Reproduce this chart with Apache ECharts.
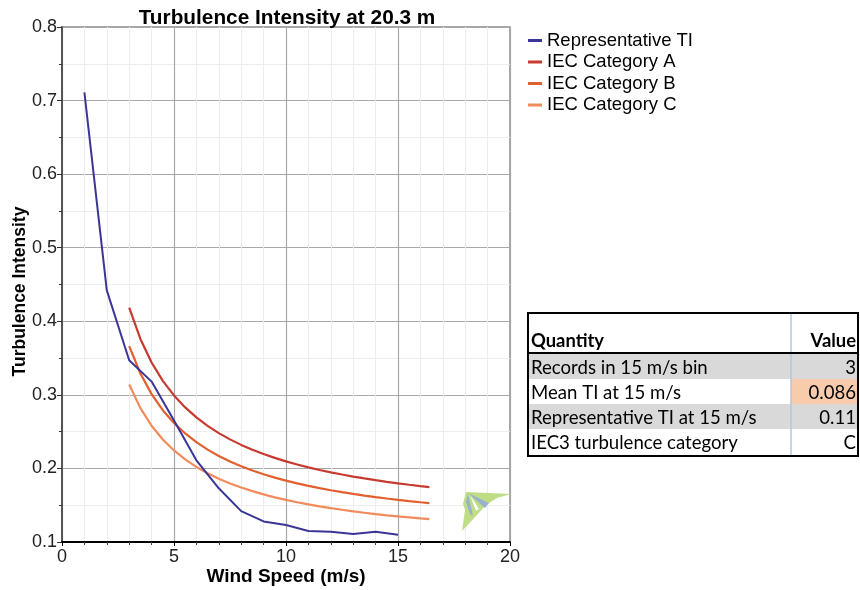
<!DOCTYPE html>
<html>
<head>
<meta charset="utf-8">
<script src="https://cdn.jsdelivr.net/npm/echarts@6/dist/echarts.min.js"></script>
<style>
  html, body { margin: 0; padding: 0; background: #fff; }
  #chart { width: 860px; height: 590px; }
</style>
</head>
<body>
<div id="chart"></div>
<script>
// Representative turbulence intensity per wind speed bin (m/s, TI)
const repSpeeds = [1, 2, 3, 4, 5, 6, 7, 8, 9, 10, 11, 12, 13, 14, 15];
const repTI = [0.711, 0.442, 0.347, 0.318, 0.265, 0.211, 0.173, 0.142, 0.128, 0.123, 0.115, 0.114, 0.111, 0.114, 0.110];

// IEC category reference curves
const iecSpeeds = [3, 3.5, 4, 4.5, 5, 5.5, 6, 6.5, 7, 7.5, 8, 8.5, 9, 9.5, 10, 10.5, 11, 11.5, 12, 12.5, 13, 13.5, 14, 14.5, 15, 15.5, 16, 16.4];
const iecA = [0.4187, 0.376, 0.344, 0.3191, 0.2992, 0.2829, 0.2693, 0.2578, 0.248, 0.2395, 0.232, 0.2254, 0.2196, 0.2143, 0.2096, 0.2053, 0.2015, 0.1979, 0.1947, 0.1917, 0.1889, 0.1864, 0.184, 0.1818, 0.1797, 0.1778, 0.176, 0.1746];
const iecB = [0.3663, 0.329, 0.301, 0.2792, 0.2618, 0.2475, 0.2357, 0.2256, 0.217, 0.2095, 0.203, 0.1972, 0.1921, 0.1875, 0.1834, 0.1797, 0.1763, 0.1732, 0.1703, 0.1677, 0.1653, 0.1631, 0.161, 0.1591, 0.1573, 0.1556, 0.154, 0.1528];
const iecC = [0.314, 0.282, 0.258, 0.2393, 0.2244, 0.2122, 0.202, 0.1934, 0.186, 0.1796, 0.174, 0.1691, 0.1647, 0.1607, 0.1572, 0.154, 0.1511, 0.1484, 0.146, 0.1438, 0.1417, 0.1398, 0.138, 0.1363, 0.1348, 0.1334, 0.132, 0.131];

const seriesNames = ['Representative TI', 'IEC Category A', 'IEC Category B', 'IEC Category C'];
const seriesColors = ['#3A3597', '#C73A2F', '#E2602E', '#F28B5C'];

// Summary table
const tableHeader = ['Quantity', 'Value'];
const tableRows = [
  ['Records in 15 m/s bin', '3'],
  ['Mean TI at 15 m/s', '0.086'],
  ['Representative TI at 15 m/s', '0.11'],
  ['IEC3 turbulence category', 'C']
];

function pairs(xs, ys) { return xs.map((x, i) => [x, ys[i]]); }

const chart = echarts.init(document.getElementById('chart'));

// table geometry
const T = { x: 528, y: 313, w: 330, headH: 40, rowH: 25, splitX: 791 };
const tableFont = 'Lato, "Open Sans", sans-serif';
const cellFont = '18.6px ' + tableFont;
const headFont = 'bold 18.4px ' + tableFont;
const tableEls = [];
tableEls.push({ type: 'rect', shape: { x: T.x, y: T.y, width: T.w, height: T.headH + T.rowH * tableRows.length + 3 }, style: { fill: '#fff', stroke: '#000', lineWidth: 2 }, z: 10 });
tableRows.forEach((r, i) => {
  const y = T.y + T.headH + 1 + i * T.rowH;
  if (i % 2 === 0) {
    tableEls.push({ type: 'rect', shape: { x: T.x + 1, y: y, width: T.w - 2, height: T.rowH }, style: { fill: '#D9D9D9' }, z: 11 });
  }
  if (i === 1) {
    tableEls.push({ type: 'rect', shape: { x: T.splitX, y: y, width: T.x + T.w - 1 - T.splitX, height: T.rowH }, style: { fill: '#F8CBAD' }, z: 11 });
  }
  tableEls.push({ type: 'text', x: T.x + 3, y: y + T.rowH / 2 + 1, style: { text: r[0], font: cellFont, fill: '#000', verticalAlign: 'middle' }, z: 13 });
  tableEls.push({ type: 'text', x: T.x + T.w - 2, y: y + T.rowH / 2 + 1, style: { text: r[1], font: cellFont, fill: '#000', align: 'right', verticalAlign: 'middle' }, z: 13 });
});
tableEls.push({ type: 'line', shape: { x1: T.splitX, y1: T.y + 1, x2: T.splitX, y2: T.y + T.headH + T.rowH * tableRows.length + 2 }, style: { stroke: '#B4C6DC', lineWidth: 1.5 }, z: 12 });
tableEls.push({ type: 'line', shape: { x1: T.x, y1: T.y + T.headH, x2: T.x + T.w, y2: T.y + T.headH }, style: { stroke: '#000', lineWidth: 2 }, z: 14 });
tableEls.push({ type: 'text', x: T.x + 3, y: T.y + T.headH - 12, style: { text: tableHeader[0], font: headFont, fill: '#000', verticalAlign: 'middle' }, z: 13 });
tableEls.push({ type: 'text', x: T.x + T.w - 2, y: T.y + T.headH - 12, style: { text: tableHeader[1], font: headFont, fill: '#000', align: 'right', verticalAlign: 'middle' }, z: 13 });

// small logo mark in the lower right of the plot
const logoEls = [
  { type: 'polygon', shape: { points: [[466, 492], [511, 494], [497, 498], [486, 505], [476, 516], [462, 531], [465, 510], [463, 504]] }, style: { fill: '#BEDD85' }, z: 5 },
  { type: 'polygon', shape: { points: [[468, 493], [489, 503], [485, 508]] }, style: { fill: '#98B1CF' }, z: 6 },
  { type: 'polygon', shape: { points: [[468, 494], [473, 516], [470, 514], [466, 502]] }, style: { fill: '#98B1CF' }, z: 6 },
  { type: 'polygon', shape: { points: [[470, 495], [479, 509], [476, 511]] }, style: { fill: '#FFFFFF' }, z: 6 }
];

chart.setOption({
  animation: false,
  backgroundColor: '#fff',
  title: {
    text: 'Turbulence Intensity at 20.3 m',
    left: 282, top: 3, textAlign: 'center',
    textStyle: { fontFamily: 'Liberation Sans, Arial, sans-serif', fontWeight: 'bold', fontSize: 20.8, color: '#000' }
  },
  legend: {
    orient: 'vertical', left: 523, top: 26,
    itemWidth: 14, itemHeight: 3, itemGap: 2.5,
    icon: 'rect',
    data: seriesNames,
    textStyle: { fontFamily: 'Liberation Sans, Arial, sans-serif', fontSize: 18.5, color: '#000' }
  },
  grid: { left: 62, right: 350, top: 27, bottom: 48, outerBoundsMode: 'none', containLabel: false, show: true, borderColor: '#8C8C8C', borderWidth: 1.5 },
  xAxis: {
    type: 'value', min: 0, max: 20, interval: 5,
    name: 'Wind Speed (m/s)', nameLocation: 'middle', nameGap: 25, nameMoveOverlap: false,
    nameTextStyle: { fontFamily: 'Liberation Sans, Arial, sans-serif', fontWeight: 'bold', fontSize: 19, color: '#000' },
    axisLine: { show: true, onZero: false, lineStyle: { color: '#000', width: 2 } },
    axisTick: { show: true, length: 4, lineStyle: { color: '#000' } },
    minorTick: { show: true, splitNumber: 5, length: 3, lineStyle: { color: '#444' } },
    axisLabel: { fontFamily: 'Liberation Sans, Arial, sans-serif', fontSize: 18, color: '#222', margin: 6 },
    splitLine: { show: true, lineStyle: { color: '#A8A8A8', width: 1.2 } },
    minorSplitLine: { show: true, lineStyle: { color: '#EDEDED', width: 1 } }
  },
  yAxis: {
    type: 'value', min: 0.1, max: 0.8, interval: 0.1,
    name: 'Turbulence Intensity', nameLocation: 'middle', nameGap: 33, nameMoveOverlap: false,
    nameTextStyle: { fontFamily: 'Liberation Sans, Arial, sans-serif', fontWeight: 'bold', fontSize: 17.5, color: '#000', padding: [0, 14, 0, 0] },
    axisLine: { show: true, onZero: false, lineStyle: { color: '#555', width: 2 } },
    axisTick: { show: true, length: 5, lineStyle: { color: '#333' } },
    minorTick: { show: true, splitNumber: 2, length: 3, lineStyle: { color: '#333' } },
    axisLabel: { fontFamily: 'Liberation Sans, Arial, sans-serif', fontSize: 18, color: '#222', margin: 5, formatter: v => v.toFixed(1) },
    splitLine: { show: true, lineStyle: { color: '#A8A8A8', width: 1.2 } },
    minorSplitLine: { show: true, lineStyle: { color: '#EDEDED', width: 1 } }
  },
  series: [
    { name: seriesNames[0], type: 'line', data: pairs(repSpeeds, repTI), showSymbol: false, lineStyle: { width: 2, color: seriesColors[0] }, itemStyle: { color: seriesColors[0] }, z: 4 },
    { name: seriesNames[1], type: 'line', data: pairs(iecSpeeds, iecA), showSymbol: false, lineStyle: { width: 2.2, color: seriesColors[1] }, itemStyle: { color: seriesColors[1] }, z: 3 },
    { name: seriesNames[2], type: 'line', data: pairs(iecSpeeds, iecB), showSymbol: false, lineStyle: { width: 2.2, color: seriesColors[2] }, itemStyle: { color: seriesColors[2] }, z: 3 },
    { name: seriesNames[3], type: 'line', data: pairs(iecSpeeds, iecC), showSymbol: false, lineStyle: { width: 2.2, color: seriesColors[3] }, itemStyle: { color: seriesColors[3] }, z: 3 }
  ],
  graphic: tableEls.concat(logoEls)
});
</script>
</body>
</html>
